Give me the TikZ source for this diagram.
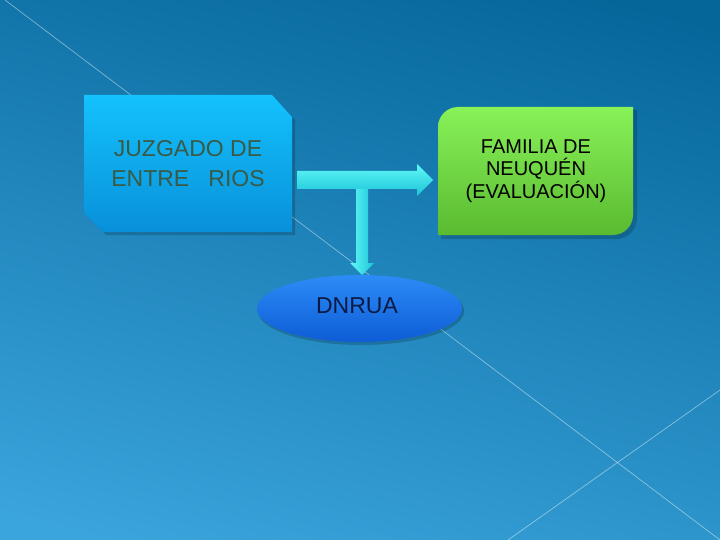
\documentclass[tikz,border=0pt]{standalone}
\usepackage{fontspec}
\setmainfont{Liberation Sans}
\usetikzlibrary{shapes.geometric}
\definecolor{bgtop}{HTML}{05669A}
\definecolor{bgbot}{HTML}{3AA4DC}
\definecolor{bluetop}{HTML}{14C2FC}
\definecolor{bluebot}{HTML}{0890DA}
\definecolor{greentop}{HTML}{88F258}
\definecolor{greenbot}{HTML}{5ABA30}
\definecolor{elltop}{HTML}{2C8CF6}
\definecolor{ellbot}{HTML}{0E5CD6}
\definecolor{arrtop}{HTML}{60F8F8}
\definecolor{arrbot}{HTML}{1CC4D8}
\definecolor{jztext}{HTML}{3A5A46}
\definecolor{dntext}{HTML}{0A1A44}
\tikzset{
  bgline/.style={draw=white, draw opacity=0.45, line width=0.7pt},
  shadowfill/.style={fill=black, fill opacity=0.18},
  label/.style={align=center, inner sep=0pt},
}
\begin{document}
\begin{tikzpicture}[x=1pt,y=-1pt]
\useasboundingbox (0,0) rectangle (720,540);
% background
\shade[top color=bgtop, bottom color=bgbot, shading angle=-15] (-40,-40) rectangle (760,580);
\path[bgline] (5,0) -- (720,540);
\path[bgline] (720,390) -- (508,540);
% coordinates
\coordinate (hs) at (297,180);
\coordinate (ht) at (433,180);
\coordinate (vs) at (362,189);
\coordinate (vt) at (362,275);
% shadows
\fill[shadowfill] (87,99) -- (275,99) -- (295,120) -- (295,235) -- (106,235) -- (87,216) -- cycle;
\fill[shadowfill] (441,130) .. controls (441,119) and (450,110) .. (461,110) -- (637,110) -- (637,218) .. controls (637,229) and (628,239) .. (617,239) -- (441,239) -- cycle;
\fill[shadowfill] (361,311) ellipse [x radius=103, y radius=34];
% blue chamfered box
\shade[top color=bluetop, bottom color=bluebot] (84,95) -- (272,95) -- (292,117) -- (292,232) -- (103,232) -- (84,213) -- cycle;
\node[label, font=\fontsize{23}{30}\selectfont, text=jztext] (jz) at (188,164) {JUZGADO DE\\ENTRE\ \ \ RIOS};
% green box
\shade[top color=greentop, bottom color=greenbot] (438,127) .. controls (438,116) and (447,107) .. (458,107) -- (633,107) -- (633,215) .. controls (633,226) and (624,235) .. (613,235) -- (438,235) -- cycle;
\node[label, font=\fontsize{20}{22.5}\selectfont, text=black] (fam) at (536,171) {FAMILIA DE\\NEUQUÉN\\(EVALUACIÓN)};
% ellipse
\shade[top color=elltop, bottom color=ellbot] (359.5,308.5) ellipse [x radius=102.5, y radius=33.5];
\node[label, font=\fontsize{23}{26}\selectfont, text=dntext] (dn) at (357,306) {DNRUA};
% block arrows
\shade[top color=arrtop, bottom color=arrbot] (hs) ++(0,-9) -- ++(120,0) -- ++(0,-7) -- (ht) -- ++(-16,16) -- ++(0,-7) -- ++(-120,0) -- cycle;
\shade[left color=arrtop, right color=arrbot] (vs) ++(-6,0) -- ++(12,0) -- ++(0,74) -- ++(6,0) -- (vt) -- ++(-12,-12) -- ++(6,0) -- cycle;
\end{tikzpicture}
\end{document}
